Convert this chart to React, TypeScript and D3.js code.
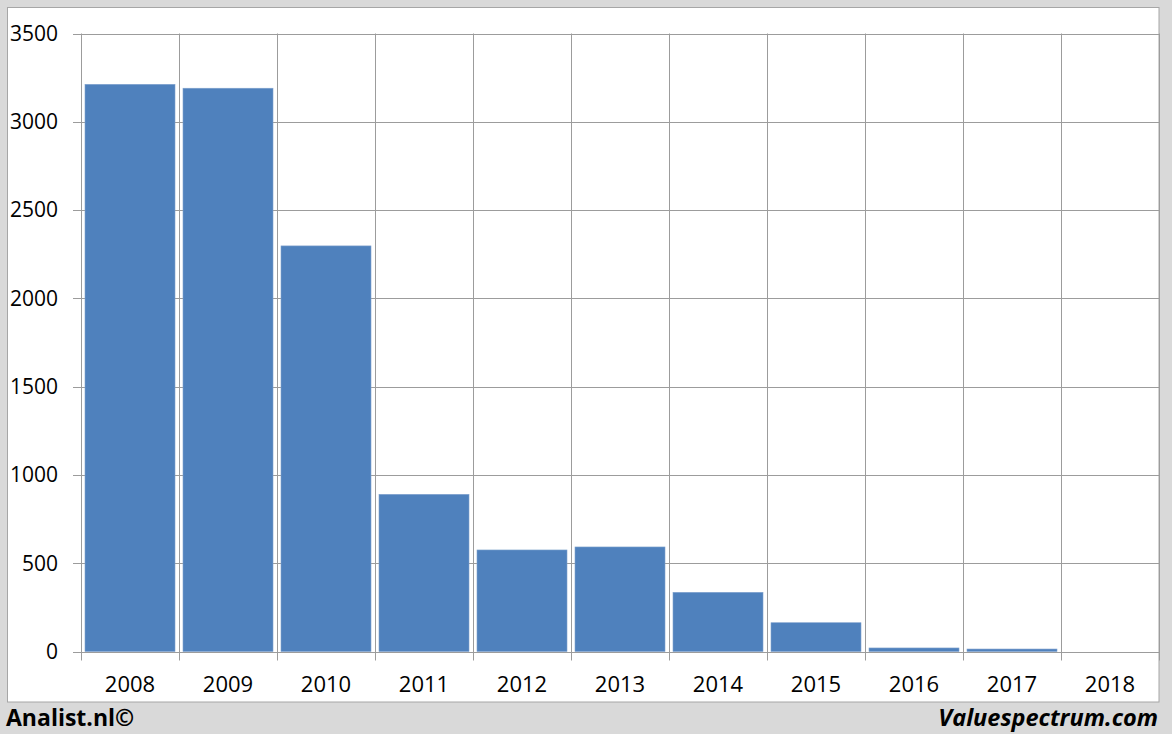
import { useEffect, useRef } from 'react';
import * as d3 from 'd3';

const years = ['2008', '2009', '2010', '2011', '2012', '2013', '2014', '2015', '2016', '2017', '2018'];
const values = [3212, 3190, 2297, 890, 575, 592, 335, 163, 20, 14, 0];
const yTicks = [0, 500, 1000, 1500, 2000, 2500, 3000, 3500];

export default function App() {
  const svgRef = useRef<SVGSVGElement>(null);

  useEffect(() => {
    if (!svgRef.current) return;
    const width = 1172;
    const height = 734;
    const left = 81, right = 1159, top = 33.5, bottom = 651.5;
    const font = "'Open Sans', 'Noto Sans', sans-serif";

    const svg = d3.select(svgRef.current);
    svg.selectAll('*').remove();
    svg.attr('width', width).attr('height', height).attr('viewBox', `0 0 ${width} ${height}`);

    // background + panel
    svg.append('rect').attr('width', width).attr('height', height).style('fill', '#d9d9d9');
    svg.append('rect')
      .attr('x', 7.5).attr('y', 7.5).attr('width', right - 7.5).attr('height', 702 - 7.5)
      .style('fill', '#ffffff').style('stroke', '#a6a6a6').style('stroke-width', 1);

    const x = d3.scaleBand<string>().domain(years).range([left, right])
      .paddingInner(8 / 98).paddingOuter(4 / 98);
    const grid = d3.scaleBand<string>().domain(years).range([left, right]);
    const y = d3.scaleLinear().domain([0, 3500]).range([bottom, top]);

    const gridColor = '#9c9c9c';

    // horizontal gridlines + y ticks
    svg.append('g').selectAll('line').data(yTicks).enter().append('line')
      .attr('x1', left - 8).attr('x2', right)
      .attr('y1', d => Math.round(y(d)) + 0.5).attr('y2', d => Math.round(y(d)) + 0.5)
      .style('stroke', gridColor).style('stroke-width', 1);

    // vertical gridlines (extend below as ticks)
    const vx = years.map(d => grid(d) as number).concat([right]);
    svg.append('g').selectAll('line').data(vx).enter().append('line')
      .attr('x1', d => Math.round(d) + 0.5).attr('x2', d => Math.round(d) + 0.5)
      .attr('y1', top).attr('y2', bottom + 9)
      .style('stroke', gridColor).style('stroke-width', 1);

    // bars
    svg.append('g').selectAll('rect').data(values).enter().append('rect')
      .attr('x', (_, i) => x(years[i]) as number)
      .attr('width', x.bandwidth())
      .attr('y', d => y(d))
      .attr('height', d => bottom - y(d))
      .style('fill', '#4f81bd')
      .style('stroke', '#7fa1cd').style('stroke-width', 0.6);

    // y labels
    svg.append('g').selectAll('text').data(yTicks).enter().append('text')
      .attr('x', 58).attr('y', d => y(d)).attr('dy', '0.35em')
      .attr('text-anchor', 'end')
      .text(d => d)
      .style('font-family', font).style('font-size', '21px').style('fill', '#000');

    // x labels
    svg.append('g').selectAll('text').data(years).enter().append('text')
      .attr('x', d => (grid(d) as number) + grid.bandwidth() / 2).attr('y', 692)
      .attr('text-anchor', 'middle')
      .text(d => d)
      .style('font-family', font).style('font-size', '22px').style('fill', '#000');

    // credits
    svg.append('text').attr('x', 6).attr('y', 726).text('Analist.nl©')
      .style('font-family', font).style('font-size', '23px').style('font-weight', 'bold').style('fill', '#000');
    svg.append('text').attr('x', 1158).attr('y', 726).attr('text-anchor', 'end').text('Valuespectrum.com')
      .style('font-family', font).style('font-size', '23.5px').style('font-weight', 'bold')
      .style('font-style', 'italic').style('fill', '#000');
  }, []);

  return (
    <div style={{ position: 'absolute', left: 0, top: 0 }}>
      <svg ref={svgRef} style={{ display: 'block' }} />
    </div>
  );
}
